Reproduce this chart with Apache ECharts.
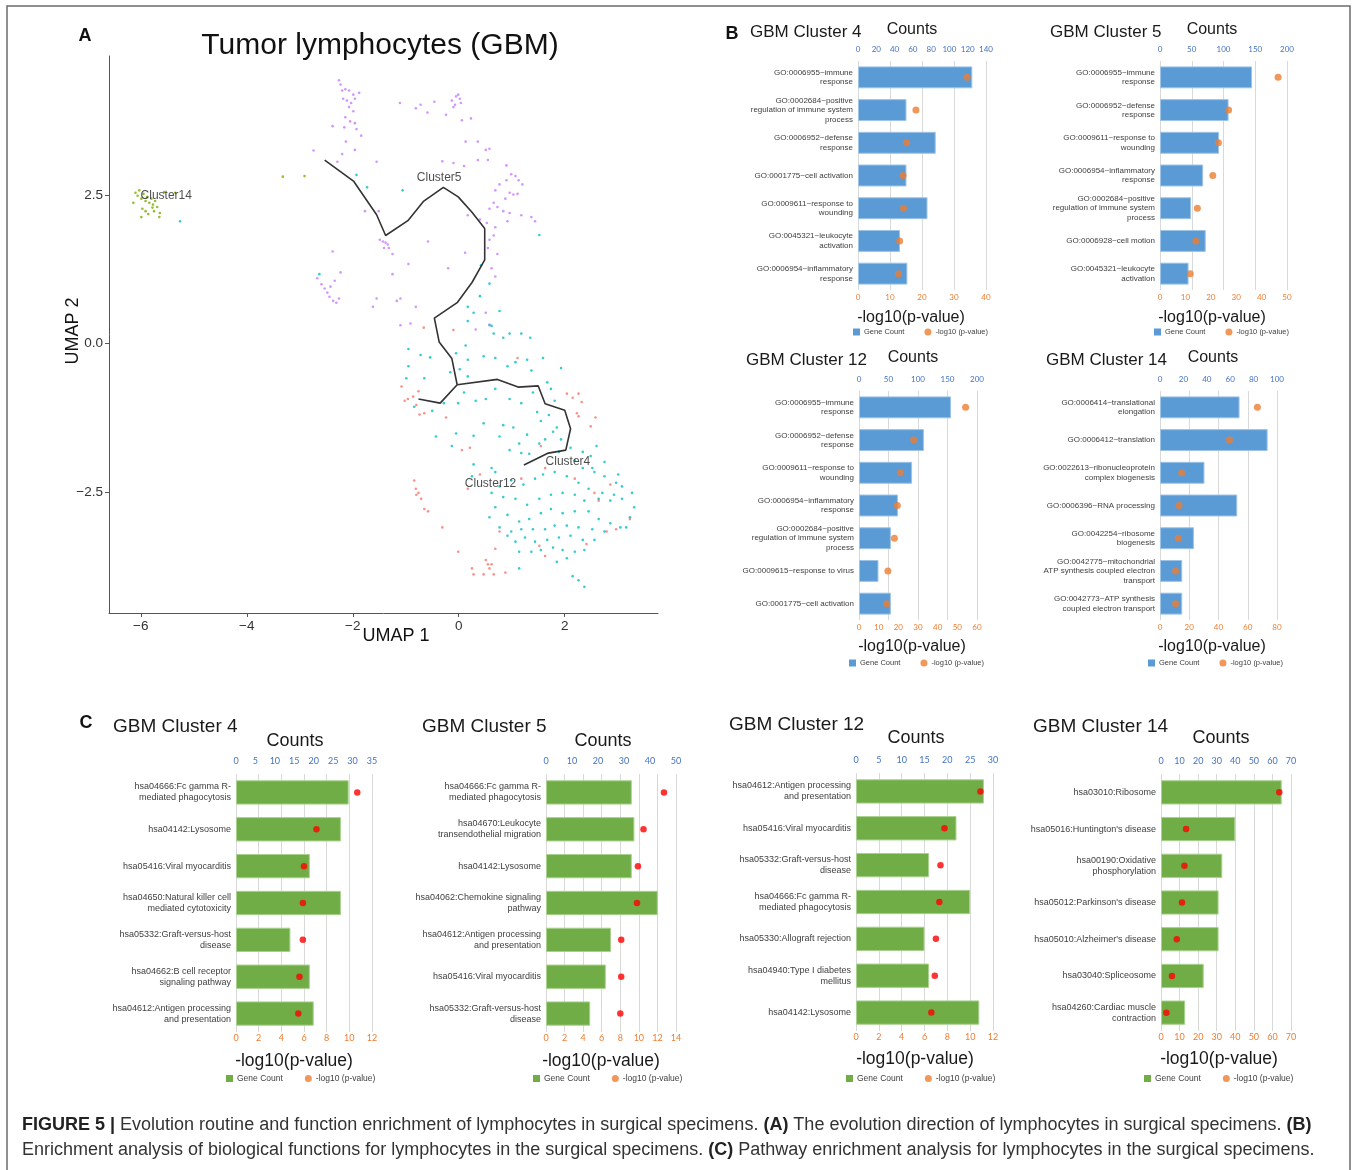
<!DOCTYPE html>
<html><head><meta charset="utf-8">
<script src="https://cdn.jsdelivr.net/npm/echarts@6/dist/echarts.min.js"></script>
<style>html,body{margin:0;padding:0;background:#fff}#c{width:1357px;height:1170px}</style>
</head><body><div id="c"></div>
<script>
// ---------------- Panel A data (UMAP 1, UMAP 2) ----------------
const umapXTicks = [-6, -4, -2, 0, 2];
const umapYTicks = [-2.5, 0, 2.5];
const umapCluster14 = [[-6.10,2.54],[-6.06,2.49],[-6.03,2.58],[-5.99,2.44],[-5.95,2.52],[-5.91,2.40],[-5.88,2.47],[-5.84,2.37],[-5.80,2.44],[-5.77,2.34],[-5.73,2.40],[-5.69,2.30],[-5.97,2.27],[-5.91,2.23],[-5.86,2.18],[-5.99,2.13],[-5.75,2.23],[-5.64,2.20],[-5.65,2.13],[-6.14,2.37],[-5.56,2.55],[-5.35,2.54],[-5.78,2.29],[-3.32,2.81],[-2.91,2.82]];
const umapCluster5 = [[-2.26,4.43],[-2.23,4.36],[-2.20,4.26],[-2.14,4.28],[-2.07,4.26],[-1.99,4.19],[-1.88,4.22],[-2.18,4.12],[-2.11,4.09],[-2.03,4.05],[-1.96,4.12],[-2.07,3.98],[-1.99,3.91],[-2.14,3.81],[-2.05,3.74],[-1.96,3.71],[-1.93,3.61],[-1.84,3.50],[-2.16,3.64],[-2.13,3.40],[-1.96,3.26],[-2.29,3.06],[-2.20,3.19],[-2.74,3.25],[-2.38,3.66],[-1.11,4.05],[-0.81,3.96],[-0.72,4.02],[-0.46,4.07],[-0.24,3.85],[-0.13,4.09],[-0.05,4.16],[-0.01,4.19],[0.02,4.12],[-0.07,4.02],[-0.10,3.98],[0.04,4.05],[0.23,3.79],[0.06,3.76],[-0.59,3.89],[0.13,3.40],[0.36,3.40],[0.51,3.26],[0.58,3.28],[0.90,3.00],[0.99,2.85],[1.07,2.82],[0.90,2.75],[1.13,2.75],[1.20,2.68],[0.77,2.68],[0.69,2.58],[0.96,2.54],[1.03,2.51],[1.11,2.52],[0.88,2.44],[0.66,2.37],[0.58,2.27],[0.73,2.30],[0.84,2.23],[0.96,2.20],[1.18,2.16],[1.37,2.13],[1.44,2.06],[0.40,2.09],[0.17,2.16],[0.53,2.03],[0.69,1.96],[0.92,2.06],[0.66,1.82],[0.55,1.61],[0.73,1.51],[0.62,1.27],[0.69,1.13],[0.58,1.75],[-0.31,3.07],[-0.10,3.04],[0.10,2.99],[0.36,3.09],[0.55,3.09],[-1.49,1.75],[-1.43,1.72],[-1.38,1.70],[-1.34,1.67],[-1.41,1.61],[-1.25,1.51],[-1.32,1.61],[-1.51,2.23],[-1.77,2.23],[-1.55,3.06],[-2.67,1.10],[-2.59,1.00],[-2.53,0.93],[-2.48,0.86],[-2.44,0.79],[-2.37,0.72],[-2.31,0.69],[-2.42,0.96],[-2.34,1.06],[-2.23,1.20],[-2.26,0.76],[-2.38,1.55],[-1.25,1.17],[-1.10,0.76],[-1.17,0.72],[-1.55,0.76],[-1.62,0.62],[-0.95,1.34],[-0.58,1.72],[-0.20,1.27],[-0.81,0.62],[-1.10,0.31],[-0.91,0.34],[0.12,1.53],[0.51,0.52],[0.58,0.31],[0.32,0.24]];
const umapCluster4 = [[-5.26,2.06],[1.52,1.83],[-1.93,2.84],[-1.73,2.63],[-1.06,2.58],[-2.63,1.17],[0.42,1.32],[0.58,1.01],[0.40,0.80],[0.17,0.62],[0.28,0.52],[0.77,0.55],[0.58,0.32],[0.62,0.30],[0.17,0.38],[0.66,0.17],[0.84,0.10],[0.96,0.17],[1.18,0.17],[1.35,0.10],[0.13,-0.03],[0.47,-0.21],[0.69,-0.24],[0.92,-0.38],[1.07,-0.31],[1.29,-0.27],[1.59,-0.24],[1.37,-0.45],[1.93,-0.41],[-0.05,-0.16],[0.17,-0.27],[0.02,-0.43],[0.17,-0.55],[-0.95,-0.09],[-0.72,-0.19],[-0.54,-0.23],[-0.95,-0.38],[-0.65,-0.58],[-0.16,-0.48],[0.10,-0.82],[-0.01,-1.00],[0.32,-0.96],[0.51,-0.93],[0.69,-0.76],[0.96,-0.93],[1.18,-1.00],[1.40,-0.82],[1.67,-0.65],[1.74,-0.76],[1.81,-0.96],[1.48,-1.15],[1.55,-1.30],[1.70,-1.20],[1.85,-1.41],[1.78,-1.48],[1.93,-1.61],[1.29,-1.53],[1.03,-1.41],[1.14,-1.68],[0.77,-1.56],[0.84,-1.37],[0.47,-1.34],[0.28,-1.55],[-0.05,-1.51],[-0.13,-1.72],[-0.43,-1.56],[-0.50,-1.13],[-0.28,-1.00],[-0.84,-1.06],[-0.99,-0.58],[0.96,-1.79],[1.18,-1.84],[1.33,-1.85],[1.52,-1.68],[1.63,-1.61],[1.89,-1.82],[2.11,-1.75],[2.34,-1.82],[2.60,-1.72],[2.49,-1.89],[2.19,-1.96],[2.34,-2.09],[2.52,-2.09],[2.75,-1.99],[2.56,-2.16],[2.75,-2.23],[3.01,-2.20],[2.97,-2.34],[3.08,-2.40],[3.27,-2.51],[2.93,-2.54],[2.71,-2.51],[2.45,-2.44],[2.26,-2.34],[2.04,-2.23],[1.81,-2.16],[1.59,-2.20],[1.44,-2.27],[1.22,-2.37],[0.99,-2.30],[0.77,-2.40],[0.62,-2.51],[0.84,-2.58],[1.07,-2.61],[1.29,-2.71],[1.52,-2.61],[1.74,-2.54],[1.96,-2.51],[2.19,-2.54],[2.37,-2.64],[2.64,-2.61],[2.86,-2.64],[3.08,-2.61],[3.31,-2.75],[3.23,-2.92],[3.05,-3.09],[2.86,-3.02],[2.64,-2.95],[2.45,-2.82],[2.19,-2.82],[1.96,-2.85],[1.74,-2.78],[1.55,-2.85],[1.33,-2.95],[1.14,-2.99],[0.92,-2.88],[0.69,-2.75],[0.58,-2.92],[0.77,-3.09],[0.99,-3.16],[1.18,-3.12],[1.40,-3.12],[1.63,-3.12],[1.81,-3.06],[2.04,-3.06],[2.26,-3.09],[2.52,-3.12],[2.75,-3.16],[3.16,-3.09],[2.56,-3.30],[2.34,-3.30],[2.11,-3.23],[1.89,-3.26],[1.67,-3.30],[1.44,-3.33],[1.25,-3.26],[1.07,-3.33],[0.92,-3.23],[1.14,-3.50],[1.37,-3.50],[1.55,-3.47],[1.78,-3.43],[1.96,-3.47],[2.19,-3.50],[2.37,-3.47],[2.04,-3.61],[1.85,-3.67],[1.14,-3.78],[2.15,-3.91],[2.26,-3.98],[2.37,-4.09],[0.28,-2.03],[0.62,-2.09],[0.69,-2.16],[0.25,-2.23]];
const umapCluster12 = [[-1.08,-0.72],[-1.02,-0.96],[-0.96,-0.93],[-0.86,-0.89],[-0.76,-0.80],[-0.80,-1.03],[-0.74,-1.19],[-0.65,-1.17],[-0.24,-1.24],[-0.66,0.27],[-0.10,0.23],[1.11,-0.24],[2.04,-0.84],[2.15,-0.91],[2.26,-0.84],[2.32,-0.98],[2.23,-1.17],[2.26,-1.22],[2.58,-1.24],[2.49,-1.39],[0.06,-1.79],[0.21,-1.75],[0.40,-2.20],[0.17,-2.44],[-0.84,-2.30],[-0.81,-2.44],[-0.76,-2.51],[-0.71,-2.61],[-0.80,-2.54],[-0.65,-2.78],[-0.58,-2.82],[-0.31,-3.09],[-0.01,-3.50],[0.25,-3.78],[0.28,-3.88],[0.51,-3.64],[0.55,-3.71],[0.58,-3.78],[0.62,-3.71],[0.66,-3.88],[0.47,-3.88],[0.69,-3.45],[0.77,-3.16],[0.88,-3.85],[1.52,-3.40],[1.63,-3.57],[2.41,-3.37],[2.79,-3.16],[2.97,-3.12],[3.23,-2.95],[2.19,-2.27],[2.56,-2.51],[2.64,-2.64],[2.86,-2.37],[1.55,-1.72],[1.63,-2.09],[1.18,-2.27]];
const trajMain = [[-2.53,3.09],[-1.98,2.73],[-1.55,2.17],[-1.38,1.82],[-0.96,2.07],[-0.66,2.40],[-0.29,2.63],[-0.01,2.47],[0.25,2.21],[0.49,1.94],[0.49,1.41],[0.25,1.03],[-0.03,0.69],[-0.46,0.43],[-0.37,0.03],[-0.13,-0.25],[-0.03,-0.69]];
const trajLeft = [[-0.03,-0.69],[-0.35,-1.00],[-0.76,-0.93]];
const trajRight = [[-0.03,-0.69],[0.73,-0.60],[1.12,-0.73],[1.50,-0.71],[1.63,-1.01],[2.00,-1.12],[2.11,-1.43],[2.02,-1.79],[1.69,-1.84],[1.23,-2.04]];
const clusterLabelNames = ['Cluster14', 'Cluster5', 'Cluster4', 'Cluster12'];
const clusterLabelPos = [[-5.52,2.49],[-0.37,2.80],[2.06,-1.99],[0.60,-2.35]];

// ---------------- Panel B data (GO terms) ----------------
const goCatsC4 = ['GO:0006955~immune\nresponse','GO:0002684~positive\nregulation of immune system\nprocess','GO:0006952~defense\nresponse','GO:0001775~cell activation','GO:0009611~response to\nwounding','GO:0045321~leukocyte\nactivation','GO:0006954~inflammatory\nresponse'];
const goCountsC4 = [125, 53, 85, 53, 76, 46, 54];
const goLogPC4 = [34.1, 18.1, 15.2, 14.1, 14.2, 13.0, 12.7];
const goCountTicksC4 = [0, 20, 40, 60, 80, 100, 120, 140];
const goLogTicksC4 = [0, 10, 20, 30, 40];

const goCatsC5 = ['GO:0006955~immune\nresponse','GO:0006952~defense\nresponse','GO:0009611~response to\nwounding','GO:0006954~inflammatory\nresponse','GO:0002684~positive\nregulation of immune system\nprocess','GO:0006928~cell motion','GO:0045321~leukocyte\nactivation'];
const goCountsC5 = [145, 108, 93, 68, 49, 72, 45];
const goLogPC5 = [46.5, 27.0, 23.0, 20.8, 14.7, 14.1, 11.9];
const goCountTicksC5 = [0, 50, 100, 150, 200];
const goLogTicksC5 = [0, 10, 20, 30, 40, 50];

const goCatsC12 = ['GO:0006955~immune\nresponse','GO:0006952~defense\nresponse','GO:0009611~response to\nwounding','GO:0006954~inflammatory\nresponse','GO:0002684~positive\nregulation of immune system\nprocess','GO:0009615~response to virus','GO:0001775~cell activation'];
const goCountsC12 = [156, 110, 90, 66, 54, 33, 54];
const goLogPC12 = [54.2, 27.8, 21.0, 19.5, 18.0, 14.7, 14.1];
const goCountTicksC12 = [0, 50, 100, 150, 200];
const goLogTicksC12 = [0, 10, 20, 30, 40, 50, 60];

const goCatsC14 = ['GO:0006414~translational\nelongation','GO:0006412~translation','GO:0022613~ribonucleoprotein\ncomplex biogenesis','GO:0006396~RNA processing','GO:0042254~ribosome\nbiogenesis','GO:0042775~mitochondrial\nATP synthesis coupled electron\ntransport','GO:0042773~ATP synthesis\ncoupled electron transport'];
const goCountsC14 = [68, 92, 38, 66, 29, 19, 19];
const goLogPC14 = [66.6, 47.5, 14.8, 13.0, 12.5, 10.7, 10.7];
const goCountTicksC14 = [0, 20, 40, 60, 80, 100];
const goLogTicksC14 = [0, 20, 40, 60, 80];

// ---------------- Panel C data (KEGG pathways) ----------------
const kgCatsC4 = ['hsa04666:Fc gamma R-\nmediated phagocytosis','hsa04142:Lysosome','hsa05416:Viral myocarditis','hsa04650:Natural killer cell\nmediated cytotoxicity','hsa05332:Graft-versus-host\ndisease','hsa04662:B cell receptor\nsignaling pathway','hsa04612:Antigen processing\nand presentation'];
const kgCountsC4 = [29, 27, 19, 27, 14, 19, 20];
const kgLogPC4 = [10.7, 7.1, 6.0, 5.9, 5.9, 5.6, 5.5];
const kgCountTicksC4 = [0, 5, 10, 15, 20, 25, 30, 35];
const kgLogTicksC4 = [0, 2, 4, 6, 8, 10, 12];

const kgCatsC5 = ['hsa04666:Fc gamma R-\nmediated phagocytosis','hsa04670:Leukocyte\ntransendothelial migration','hsa04142:Lysosome','hsa04062:Chemokine signaling\npathway','hsa04612:Antigen processing\nand presentation','hsa05416:Viral myocarditis','hsa05332:Graft-versus-host\ndisease'];
const kgCountsC5 = [33, 34, 33, 43, 25, 23, 17];
const kgLogPC5 = [12.7, 10.5, 9.9, 9.8, 8.1, 8.1, 8.0];
const kgCountTicksC5 = [0, 10, 20, 30, 40, 50];
const kgLogTicksC5 = [0, 2, 4, 6, 8, 10, 12, 14];

const kgCatsC12 = ['hsa04612:Antigen processing\nand presentation','hsa05416:Viral myocarditis','hsa05332:Graft-versus-host\ndisease','hsa04666:Fc gamma R-\nmediated phagocytosis','hsa05330:Allograft rejection','hsa04940:Type I diabetes\nmellitus','hsa04142:Lysosome'];
const kgCountsC12 = [28, 22, 16, 25, 15, 16, 27];
const kgLogPC12 = [10.9, 7.75, 7.4, 7.3, 7.0, 6.9, 6.6];
const kgCountTicksC12 = [0, 5, 10, 15, 20, 25, 30];
const kgLogTicksC12 = [0, 2, 4, 6, 8, 10, 12];

const kgCatsC14 = ['hsa03010:Ribosome',"hsa05016:Huntington's disease",'hsa00190:Oxidative\nphosphorylation',"hsa05012:Parkinson's disease","hsa05010:Alzheimer's disease",'hsa03040:Spliceosome','hsa04260:Cardiac muscle\ncontraction'];
const kgCountsC14 = [65, 40, 33, 31, 31, 23, 13];
const kgLogPC14 = [63.7, 13.5, 12.6, 11.3, 8.5, 5.9, 2.9];
const kgCountTicksC14 = [0, 10, 20, 30, 40, 50, 60, 70];
const kgLogTicksC14 = [0, 10, 20, 30, 40, 50, 60, 70];

// ---------------- Build chart ----------------
const SANS = 'Liberation Sans, Arial, sans-serif';
const TICKF = 'Lato, Liberation Sans, sans-serif';
const grids = [], xAxes = [], yAxes = [], series = [], legends = [], graphics = [];

function minus(v) { return v < 0 ? '\u2212' + Math.abs(v) : String(v); }

// Panel A
grids.push({left: 109, top: 56, width: 549, height: 557});
xAxes.push({gridIndex: 0, type: 'value', min: -6.6, max: 3.76,
  axisLine: {onZero: false, lineStyle: {color: '#555', width: 1}},
  axisTick: {length: 4, lineStyle: {color: '#555'}, customValues: umapXTicks},
  axisLabel: {customValues: umapXTicks, formatter: v => minus(v), fontSize: 13.5, color: '#333', fontFamily: SANS, margin: 6},
  splitLine: {show: false}});
yAxes.push({gridIndex: 0, type: 'value', min: -4.53, max: 4.84,
  axisLine: {show: true, onZero: false, lineStyle: {color: '#555', width: 1}},
  axisTick: {show: true, length: 4, lineStyle: {color: '#555'}, customValues: umapYTicks},
  axisLabel: {customValues: umapYTicks, formatter: v => (v < 0 ? '\u2212' : '') + Math.abs(v).toFixed(1), fontSize: 13.5, color: '#333', fontFamily: SANS, margin: 6},
  splitLine: {show: false}});
[[umapCluster12, '#F8766D'], [umapCluster14, '#7CAE00'], [umapCluster4, '#00BFC4'], [umapCluster5, '#C77CFF']].forEach(([d, c]) => {
  series.push({type: 'scatter', xAxisIndex: 0, yAxisIndex: 0, data: d, symbolSize: 2.6, itemStyle: {color: c}, silent: true});
});
[trajMain, trajLeft, trajRight].forEach(d => {
  series.push({type: 'line', xAxisIndex: 0, yAxisIndex: 0, data: d, showSymbol: false, lineStyle: {color: '#333', width: 1.6}, silent: true, z: 3});
});
series.push({type: 'scatter', xAxisIndex: 0, yAxisIndex: 0, symbolSize: 0, z: 4,
  data: clusterLabelNames.map((n, i) => ({name: n, value: clusterLabelPos[i]})),
  label: {show: true, position: 'inside', formatter: p => p.name, fontSize: 12, color: '#222', fontFamily: SANS}});

function addPanel(p) {
  const gi = grids.length;
  grids.push({left: p.left, top: p.top, width: p.width, height: p.height});
  const xi = xAxes.length;
  const ct = p.countTicks, lt = p.logTicks;
  xAxes.push({gridIndex: gi, type: 'value', position: 'top', min: ct[0], max: ct[ct.length - 1], interval: ct[1] - ct[0],
    axisLine: {show: false}, axisTick: {show: false},
    splitLine: {show: p.gridFrom === 'top', lineStyle: {color: '#D9D9D9', width: 1}},
    axisLabel: {color: '#4472C4', fontSize: p.tickFont, fontFamily: TICKF, margin: p.topMargin}});
  xAxes.push({gridIndex: gi, type: 'value', position: 'bottom', min: lt[0], max: lt[lt.length - 1], interval: lt[1] - lt[0],
    axisLine: {show: false}, axisTick: {show: false},
    splitLine: {show: p.gridFrom === 'bottom', lineStyle: {color: '#D9D9D9', width: 1}},
    axisLabel: {color: '#ED7D31', fontSize: p.tickFont, fontFamily: TICKF, margin: p.bottomMargin}});
  const yi = yAxes.length;
  yAxes.push({gridIndex: gi, type: 'category', inverse: true, data: p.cats,
    axisLine: {show: false}, axisTick: {show: false}, splitLine: {show: false},
    axisLabel: {fontSize: p.catFont, lineHeight: p.catLine, color: '#404040', fontFamily: SANS, margin: 5, align: 'right'}});
  series.push({type: 'bar', name: 'Gene Count', xAxisIndex: xi, yAxisIndex: yi, data: p.counts, barCategoryGap: p.gap,
    itemStyle: {color: p.barColor, borderColor: p.barBorder, borderWidth: 1}, silent: true, z: 2});
  series.push({type: 'scatter', name: '-log10 (p-value)', xAxisIndex: xi + 1, yAxisIndex: yi,
    data: p.logp.map((v, i) => [v, i]), symbolSize: p.dotSize, itemStyle: {color: p.dotColor}, silent: true, z: 5});
  legends.push({left: p.legLeft, top: p.legTop, padding: 0, itemWidth: 7, itemHeight: 7, itemGap: p.legGap,
    textStyle: {fontSize: p.legFont, color: '#404040', fontFamily: SANS, padding: [0, 0, 0, -1]},
    selectedMode: false,
    data: [{name: 'Gene Count', icon: 'rect', itemStyle: {color: p.barColor, borderWidth: 0}},
           {name: '-log10 (p-value)', icon: 'circle', itemStyle: {color: '#ED7D31', borderWidth: 0}}]});
  graphics.push({type: 'text', x: p.titleX, y: p.titleY, style: {text: p.title, fontSize: p.titleFont, fontFamily: SANS, fill: '#1a1a1a', align: 'left', verticalAlign: 'middle'}});
  graphics.push({type: 'text', x: p.countsX, y: p.countsY, style: {text: 'Counts', fontSize: p.titleFont - 1, fontFamily: SANS, fill: '#1a1a1a', align: 'center', verticalAlign: 'middle'}});
  graphics.push({type: 'text', x: p.xlabX, y: p.xlabY, style: {text: '-log10(p-value)', fontSize: p.xlabFont, fontFamily: SANS, fill: '#1a1a1a', align: 'center', verticalAlign: 'middle'}});
}

const B = {tickFont: 8, topMargin: 8, bottomMargin: 3, catFont: 8, catLine: 9.5, gap: '33%',
  barColor: '#5B9BD5', barBorder: '#9DC3E6', dotColor: '#ED7D31', dotSize: 7, legFont: 7.5, legGap: 20, titleFont: 17, xlabFont: 16};
const C = {tickFont: 9, topMargin: 8, bottomMargin: 2, catFont: 9, catLine: 11, gap: '34%',
  barColor: '#70AD47', barBorder: '#A9D18E', dotColor: '#FF0000', dotSize: 6.5, legFont: 8.5, legGap: 22, titleFont: 19, xlabFont: 17.5};

addPanel(Object.assign({}, B, {cats: goCatsC4, counts: goCountsC4, logp: goLogPC4, countTicks: goCountTicksC4, logTicks: goLogTicksC4, gridFrom: 'bottom',
  left: 858, top: 61, width: 128, height: 229, title: 'GBM Cluster 4', titleX: 750, titleY: 32, countsX: 912, countsY: 30, xlabX: 911, xlabY: 318, legLeft: 853, legTop: 328}));
addPanel(Object.assign({}, B, {cats: goCatsC5, counts: goCountsC5, logp: goLogPC5, countTicks: goCountTicksC5, logTicks: goLogTicksC5, gridFrom: 'top',
  left: 1160, top: 61, width: 127, height: 229, title: 'GBM Cluster 5', titleX: 1050, titleY: 32, countsX: 1212, countsY: 30, xlabX: 1212, xlabY: 318, legLeft: 1154, legTop: 328}));
addPanel(Object.assign({}, B, {cats: goCatsC12, counts: goCountsC12, logp: goLogPC12, countTicks: goCountTicksC12, logTicks: goLogTicksC12, gridFrom: 'top',
  left: 859, top: 391, width: 118, height: 229, title: 'GBM Cluster 12', titleX: 746, titleY: 360, countsX: 913, countsY: 358, xlabX: 912, xlabY: 647, legLeft: 849, legTop: 659}));
addPanel(Object.assign({}, B, {cats: goCatsC14, counts: goCountsC14, logp: goLogPC14, countTicks: goCountTicksC14, logTicks: goLogTicksC14, gridFrom: 'bottom',
  left: 1160, top: 391, width: 117, height: 229, title: 'GBM Cluster 14', titleX: 1046, titleY: 360, countsX: 1213, countsY: 358, xlabX: 1212, xlabY: 647, legLeft: 1148, legTop: 659}));

addPanel(Object.assign({}, C, {cats: kgCatsC4, counts: kgCountsC4, logp: kgLogPC4, countTicks: kgCountTicksC4, logTicks: kgLogTicksC4, gridFrom: 'bottom',
  left: 236, top: 774, width: 136, height: 258, title: 'GBM Cluster 4', titleX: 113, titleY: 727, countsX: 295, countsY: 741, xlabX: 294, xlabY: 1061, legLeft: 226, legTop: 1074}));
addPanel(Object.assign({}, C, {cats: kgCatsC5, counts: kgCountsC5, logp: kgLogPC5, countTicks: kgCountTicksC5, logTicks: kgLogTicksC5, gridFrom: 'bottom',
  left: 546, top: 774, width: 130, height: 258, title: 'GBM Cluster 5', titleX: 422, titleY: 727, countsX: 603, countsY: 741, xlabX: 601, xlabY: 1061, legLeft: 533, legTop: 1074}));
addPanel(Object.assign({}, C, {cats: kgCatsC12, counts: kgCountsC12, logp: kgLogPC12, countTicks: kgCountTicksC12, logTicks: kgLogTicksC12, gridFrom: 'bottom',
  left: 856, top: 773, width: 137, height: 258, title: 'GBM Cluster 12', titleX: 729, titleY: 725, countsX: 916, countsY: 738, xlabX: 915, xlabY: 1059, legLeft: 846, legTop: 1074}));
addPanel(Object.assign({}, C, {cats: kgCatsC14, counts: kgCountsC14, logp: kgLogPC14, countTicks: kgCountTicksC14, logTicks: kgLogTicksC14, gridFrom: 'bottom',
  left: 1161, top: 774, width: 130, height: 257, title: 'GBM Cluster 14', titleX: 1033, titleY: 727, countsX: 1221, countsY: 738, xlabX: 1219, xlabY: 1059, legLeft: 1144, legTop: 1074}));

// static texts
const CAPF = 'Liberation Sans, Arial, sans-serif';
graphics.push({type: 'rect', shape: {x: 7, y: 6, width: 1343, height: 1175}, style: {fill: 'none', stroke: '#6b6b6b', lineWidth: 1.5}, z: -1});
graphics.push({type: 'text', x: 85, y: 36, style: {text: 'A', fontSize: 18, fontWeight: 'bold', fontFamily: SANS, fill: '#111', align: 'center', verticalAlign: 'middle'}});
graphics.push({type: 'text', x: 732, y: 34, style: {text: 'B', fontSize: 18, fontWeight: 'bold', fontFamily: SANS, fill: '#111', align: 'center', verticalAlign: 'middle'}});
graphics.push({type: 'text', x: 86, y: 723, style: {text: 'C', fontSize: 18, fontWeight: 'bold', fontFamily: SANS, fill: '#111', align: 'center', verticalAlign: 'middle'}});
graphics.push({type: 'text', x: 380, y: 46, style: {text: 'Tumor lymphocytes (GBM)', fontSize: 30, fontFamily: SANS, fill: '#111', align: 'center', verticalAlign: 'middle'}});
graphics.push({type: 'text', x: 396, y: 636, style: {text: 'UMAP 1', fontSize: 18, fontFamily: SANS, fill: '#111', align: 'center', verticalAlign: 'middle'}});
graphics.push({type: 'text', x: 73, y: 331, rotation: Math.PI / 2, style: {text: 'UMAP 2', fontSize: 18, fontFamily: SANS, fill: '#111', align: 'center', verticalAlign: 'middle'}});
graphics.push({type: 'text', x: 22, y: 1125, style: {
  text: '{b|FIGURE 5 |} Evolution routine and function enrichment of lymphocytes in surgical specimens. {b|(A)} The evolution direction of lymphocytes in surgical specimens. {b|(B)}',
  fontSize: 18, fontFamily: CAPF, fill: '#333', verticalAlign: 'middle',
  rich: {b: {fontWeight: 'bold', fontSize: 18, fontFamily: CAPF, fill: '#222'}}}});
graphics.push({type: 'text', x: 22, y: 1150, style: {
  text: 'Enrichment analysis of biological functions for lymphocytes in the surgical specimens. {b|(C)} Pathway enrichment analysis for lymphocytes in the surgical specimens.',
  fontSize: 18, fontFamily: CAPF, fill: '#333', verticalAlign: 'middle',
  rich: {b: {fontWeight: 'bold', fontSize: 18, fontFamily: CAPF, fill: '#222'}}}});

const chart = echarts.init(document.getElementById('c'), null, {renderer: 'canvas'});
chart.setOption({animation: false, backgroundColor: '#fff', grid: grids, xAxis: xAxes, yAxis: yAxes, series: series, legend: legends, graphic: graphics});
</script>
</body></html>
